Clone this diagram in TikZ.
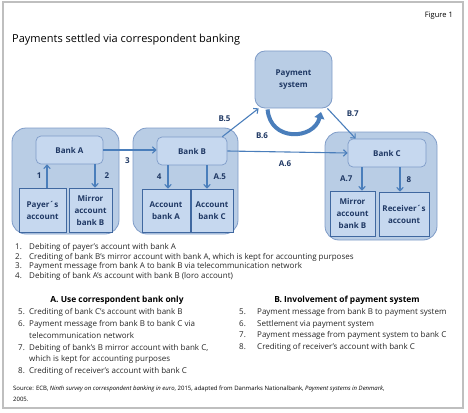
\documentclass[tikz,border=0pt]{standalone}
\usepackage{fontspec}
\setmainfont{Open Sans}
\usepackage{xcolor}
\usetikzlibrary{arrows.meta,positioning}

\definecolor{boxfill}{HTML}{B9CDE5}
\definecolor{innerfill}{HTML}{C6D8EF}
\definecolor{boxline}{HTML}{7F9CC8}
\definecolor{acctline}{HTML}{4068A0}
\definecolor{arrowblue}{HTML}{4A7EBB}
\definecolor{navy}{HTML}{1F3864}

\tikzset{
  outerbox/.style={draw=boxline, fill=boxfill, rounded corners=14pt, line width=0.8pt, inner sep=0pt},
  bankbox/.style={draw=boxline, fill=innerfill, rounded corners=5pt, line width=0.7pt, inner sep=0pt,
    font=\fontsize{8}{9.6}\selectfont\bfseries, text=navy},
  paybox/.style={draw=boxline, fill=boxfill, rounded corners=10pt, line width=0.8pt, inner sep=0pt, align=center,
    font=\fontsize{8}{12}\selectfont\bfseries, text=navy},
  acctbox/.style={draw=acctline, fill=innerfill, line width=0.6pt, inner sep=0pt, align=center,
    font=\fontsize{8}{12}\selectfont\bfseries, text=navy},
  flow/.style={draw=arrowblue, line width=1.1pt, -{Straight Barb[length=3.5pt, width=6.5pt]}},
  steplabel/.style={font=\fontsize{8}{9}\selectfont\bfseries, text=navy, inner sep=1pt},
  listnum/.style={anchor=base west, inner sep=0pt, font=\fontsize{8}{9}\selectfont, text=black!85},
  listtext/.style={anchor=base west, inner sep=0pt, font=\fontsize{8}{9}\selectfont, text=black!85},
  listhead/.style={anchor=base, inner sep=0pt, font=\fontsize{8.4}{10}\selectfont\bfseries},
  srctext/.style={anchor=base west, inner sep=0pt, font=\fontsize{6}{7}\selectfont},
}

\begin{document}
\begin{tikzpicture}[x=1pt, y=-1pt]
  \useasboundingbox (0,0) rectangle (468,412);
  \draw[black!25, line width=1.5pt] (3,2) rectangle (463,408);

  \node[anchor=base east, inner sep=0pt, font=\fontsize{7.5}{9}\selectfont] (fig) at (453,18) {Figure 1};
  \node[anchor=base west, inner sep=0pt, font=\fontsize{11}{13}\selectfont] (title) at (12,42) {Payments settled via correspondent banking};

  % banks
  \node[outerbox, minimum width=107pt, minimum height=106pt] (outA) at (65.5,181) {};
  \node[outerbox, minimum width=105pt, minimum height=106pt] (outB) at (185.5,181) {};
  \node[outerbox, minimum width=112pt, minimum height=108pt] (outC) at (381,186) {};
  \node[paybox, minimum width=77pt, minimum height=57pt] (pay) at (293.5,79.5) {Payment\\system};

  \node[bankbox, minimum width=67pt, minimum height=28pt] (bankA) at (69.5,150) {Bank A};
  \node[bankbox, minimum width=70pt, minimum height=28pt] (bankB) at (192,151) {Bank B};
  \node[bankbox, minimum width=78pt, minimum height=28pt] (bankC) at (387,153) {Bank C};

  % accounts
  \node[acctbox, minimum width=47pt, minimum height=44pt] (payer) at (42.5,210) {Payer´s\\account};
  \node[acctbox, minimum width=43pt, minimum height=44pt] (mirA) at (90.5,210) {Mirror\\account\\bank B};
  \node[acctbox, minimum width=48pt, minimum height=43pt] (accA) at (166,210.5) {Account\\bank A};
  \node[acctbox, minimum width=42pt, minimum height=43pt] (accC) at (212,210.5) {Account\\bank C};
  \node[acctbox, minimum width=45pt, minimum height=45pt] (mirC) at (352.5,213.5) {Mirror\\account\\bank B};
  \node[acctbox, minimum width=50pt, minimum height=44pt] (recv) at (404,214) {Receiver´s\\account};

  % flows
  \draw[flow] ([xshift=4.5pt]payer.north) -- ([xshift=4.5pt]payer.north |- bankA.south)
    node[steplabel, midway, left=4pt] (l1) {1};
  \draw[flow] ([xshift=4.5pt]mirA.north |- bankA.south) -- ([xshift=4.5pt]mirA.north)
    node[steplabel, midway, right=8pt] (l2) {2};
  \draw[flow] (bankA.east) -- (bankA.east -| bankB.west)
    node[steplabel, pos=0.45, below=6pt] (l3) {3};
  \draw[flow] ([xshift=2pt]accA.north |- bankB.south) -- ([xshift=2pt]accA.north)
    node[steplabel, midway, left=5pt] (l4) {4};
  \draw[flow] ([xshift=-5pt]accC.north |- bankB.south) -- ([xshift=-5pt]accC.north)
    node[steplabel, midway, right=5pt] (l5) {A.5};
  \draw[flow] (bankB.east) -- (bankC.west)
    node[steplabel, pos=0.48, below=7pt] (l6) {A.6};
  \draw[flow] ([xshift=9.5pt]mirC.north |- bankC.south) -- ([xshift=9.5pt]mirC.north)
    node[steplabel, midway, left=8pt] (l7) {A.7};
  \draw[flow] ([xshift=-4pt]recv.north |- bankC.south) -- ([xshift=-4pt]recv.north)
    node[steplabel, midway, right=5pt] (l8) {8};

  \draw[flow] ([xshift=-5pt]bankB.north east) -- ([xshift=4pt]pay.south west)
    node[steplabel, pos=0.35, above left=4pt and 3pt] (b5) {B.5};
  \draw[flow] ([xshift=-5pt]pay.south east) -- ([xshift=8pt]bankC.north west)
    node[steplabel, pos=0.35, above right=1pt and 8pt] (b7) {B.7};
  \draw[arrowblue, line width=4pt, -{Triangle[length=6.5pt, width=10pt]}]
    ([xshift=13pt, yshift=-1pt]pay.south west) .. controls (270,142) and (314,140) .. (321,112);
  \node[steplabel] (b6) at (262,136) {B.6};

  % key
  \node[listnum] (n1) at (15,249.5) {1.};
  \node[listtext] (t1) at (29,249.5) {Debiting of payer’s account with bank A};
  \node[listnum] (n2) at (15,259) {2.};
  \node[listtext] (t2) at (29,259) {Crediting of bank B’s mirror account with bank A, which is kept for accounting purposes};
  \node[listnum] (n3) at (15,268.5) {3.};
  \node[listtext] (t3) at (29,268.5) {Payment message from bank A to bank B via telecommunication network};
  \node[listnum] (n4) at (15,278) {4.};
  \node[listtext] (t4) at (29,278) {Debiting of bank A’s account with bank B (loro account)};

  \node[listhead] (headA) at (117,302) {A. Use correspondent bank only};
  \node[listnum] (a5) at (18,314.5) {5.};
  \node[listtext] (ta5) at (29,314.5) {Crediting of bank C’s account with bank B};
  \node[listnum] (a6) at (18,326.5) {6.};
  \node[listtext] (ta6) at (29,326.5) {Payment message from bank B to bank C via};
  \node[listtext] (ta6b) at (29,338) {telecommunication network};
  \node[listnum] (a7) at (18,350) {7.};
  \node[listtext] (ta7) at (29,350) {Debiting of bank’s B mirror account with bank C,};
  \node[listtext] (ta7b) at (29,361) {which is kept for accounting purposes};
  \node[listnum] (a8) at (18,373) {8.};
  \node[listtext] (ta8) at (29,373) {Crediting of receiver’s account with bank C};

  \node[listhead] (headB) at (347,302) {B. Involvement of payment system};
  \node[listnum] (b5n) at (239,314.5) {5.};
  \node[listtext] (tb5) at (257,314.5) {Payment message from bank B to payment system};
  \node[listnum] (b6n) at (239,326) {6.};
  \node[listtext] (tb6) at (257,326) {Settlement via payment system};
  \node[listnum] (b7n) at (239,337.5) {7.};
  \node[listtext] (tb7) at (257,337.5) {Payment message from payment system to bank C};
  \node[listnum] (b8n) at (239,349) {8.};
  \node[listtext] (tb8) at (257,349) {Crediting of receiver’s account with bank C};

  \node[srctext] (src) at (13,390.5)
    {Source: ECB, \textit{Ninth survey on correspondent banking in euro}, 2015, adapted from Danmarks Nationalbank, \textit{Payment systems in Denmark},};
  \node[srctext] (src2) at (13,401) {2005.};
\end{tikzpicture}
\end{document}
